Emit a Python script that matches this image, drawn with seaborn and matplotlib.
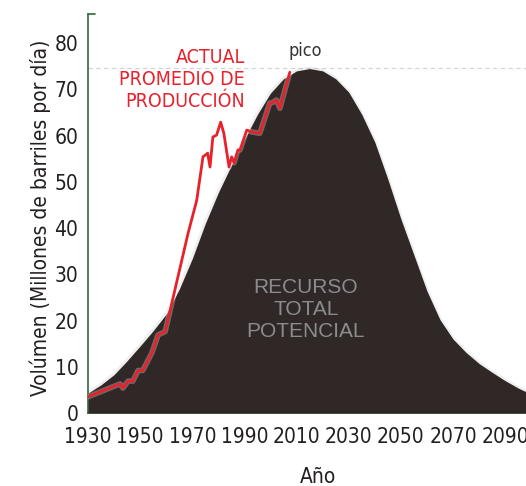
import numpy as np
import pandas as pd
import seaborn as sns
import matplotlib.pyplot as plt
import matplotlib.patheffects as pe

sns.set_style("white")
plt.rcParams['font.family'] = ['DejaVu Sans']
plt.rcParams['font.stretch'] = 'condensed'

# curva de recurso total potencial (lectura aproximada)
anios_curva = [1930, 1935, 1940, 1945, 1950, 1955, 1960, 1965, 1970, 1975,
               1980, 1985, 1990, 1995, 2000, 2005, 2010, 2015, 2020, 2025,
               2030, 2035, 2040, 2045, 2050, 2055, 2060, 2065, 2070, 2075,
               2080, 2085, 2090, 2095, 2098]
recurso = [4.3, 6.1, 8.3, 11.3, 14.5, 17.8, 21.4, 26.8, 33.4, 41.0,
           47.7, 53.6, 59.2, 64.6, 69.2, 72.3, 74.0, 74.5, 74.0, 72.3,
           69.4, 64.6, 58.6, 50.6, 42.0, 34.2, 26.4, 20.2, 16.0, 13.1,
           10.7, 8.8, 7.0, 5.4, 4.6]

# producción actual
anios_prod = [1930, 1942.3, 1943.4, 1945.4, 1947.2, 1949.2, 1951, 1954.5,
              1956.9, 1959.6, 1968.4, 1971.7, 1974.1, 1975.9, 1976.8, 1977.9,
              1979.3, 1980.9, 1982.1, 1984.1, 1985.1, 1986, 1987.5, 1988.3,
              1990.9, 1992.7, 1995.9, 1999.7, 2000.9, 2002.3, 2003.6, 2007.4]
produccion = [3.5, 6.3, 5.4, 6.9, 6.9, 9.2, 9.2, 13.0,
              16.9, 17.6, 38.9, 46.0, 55.4, 56.2, 53.2, 59.7,
              60.1, 62.9, 60.5, 53.2, 55.4, 54.1, 56.9, 56.9,
              61.2, 60.8, 60.5, 67.0, 67.2, 67.7, 65.9, 73.7]

pico = 74.6
x_ticks = [1930, 1950, 1970, 1990, 2010, 2030, 2050, 2070, 2090]
y_ticks = [0, 10, 20, 30, 40, 50, 60, 70, 80]

df_curva = pd.DataFrame({'anio': anios_curva, 'vol': recurso})
df_prod = pd.DataFrame({'anio': anios_prod, 'vol': produccion})

fig = plt.figure(figsize=(5.26, 4.86), dpi=100)
ax = fig.add_axes([88 / 526, 1 - 413 / 486, 438 / 526, 399 / 486])

verde = '#2f6b3a'
texto = '#231f20'

ax.axhline(pico, color='#d2d2d2', lw=0.8, ls=(0, (4, 3)), zorder=1)

# halo suave alrededor de la curva
sns.lineplot(data=df_curva, x='anio', y='vol', ax=ax, color='#9a9a9a',
             lw=3, alpha=0.15, zorder=2)
ax.fill_between(df_curva['anio'], df_curva['vol'], color='#2f2826',
                lw=0, zorder=3)

sns.lineplot(data=df_prod, x='anio', y='vol', ax=ax, color='#e8212b',
             lw=2, zorder=5,
             path_effects=[pe.Stroke(linewidth=4, foreground='white', alpha=0.3),
                           pe.Normal()])

ax.set_xlim(1930, 2098)
ax.set_ylim(0, 86.3)
ax.set_xticks(x_ticks)
ax.set_yticks(y_ticks)

for s in ['top', 'right']:
    ax.spines[s].set_visible(False)
for s in ['left', 'bottom']:
    ax.spines[s].set_color(verde)
    ax.spines[s].set_linewidth(1.2)

ax.tick_params(axis='x', direction='in', length=5, width=1.2, color=verde,
               pad=10, labelsize=15, labelcolor=texto)
ax.tick_params(axis='y', length=0, pad=7, labelsize=15, labelcolor=texto)
# pequeña marca en el extremo superior del eje y
ax.plot([0, 0.016], [1, 1], transform=ax.transAxes, color=verde, lw=1.2,
        clip_on=False)

ax.set_xlabel('Año', fontsize=15, color=texto)
ax.xaxis.set_label_coords(0.525, -0.135)
ax.set_ylabel('Volúmen (Millones de barriles por día)', fontsize=15, color=texto)
ax.yaxis.set_label_coords(-0.085, 0.49)

ax.text(1990.2, 78.9, 'ACTUAL\nPROMEDIO DE\nPRODUCCIÓN', color='#e8212b',
        fontsize=14, ha='right', va='top', linespacing=1.2, zorder=6)
ax.text(2013.5, 76.3, 'pico', color='#333333', fontsize=13, ha='center',
        va='bottom', zorder=6)
ax.text(2013.5, 22.3, 'RECURSO\nTOTAL\nPOTENCIAL', color='#8c8c8e',
        fontsize=15, ha='center', va='center', linespacing=1.2,
        family=['Liberation Sans', 'DejaVu Sans'], stretch='normal', zorder=6)

fig.savefig('out.png', dpi=100)
